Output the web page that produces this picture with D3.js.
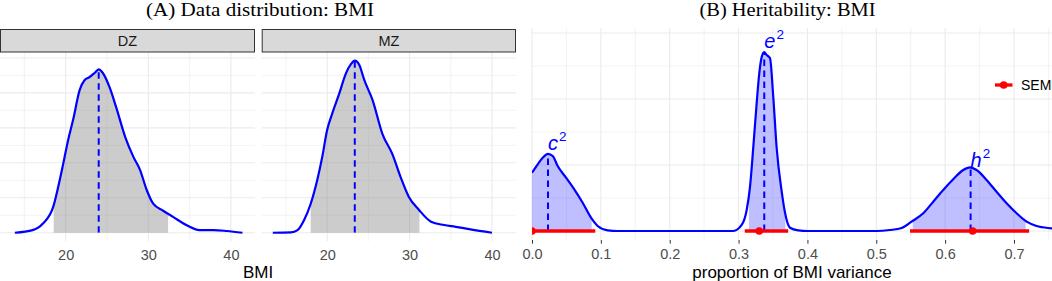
<!DOCTYPE html>
<html><head><meta charset="utf-8">
<script src="https://cdn.jsdelivr.net/npm/d3@7"></script>
<style>body{margin:0;background:#fff}svg{display:block}</style>
</head><body>
<svg id="chart" width="1052" height="281"></svg>
<script>
// ---------- data: panel A (BMI distributions) ----------
const twinTypes = ["DZ", "MZ"];
const bmiTicks = [20, 30, 40];
const bmiMinor = [15, 25, 35];
const dzBmi = [13.85, 16.0, 17.25, 18.5, 19.1, 19.7, 20.3, 20.9, 21.7, 22.3, 22.9, 23.5, 24.0, 24.5, 25.3, 26.1, 27.2, 28.2, 29.0, 29.8, 30.6, 31.8, 33.0, 34.6, 36.2, 37.9, 39.5, 41.4];
const dzDensity = [0, 0.0015, 0.0053, 0.0149, 0.0263, 0.0394, 0.0531, 0.0646, 0.0817, 0.0874, 0.0891, 0.0914, 0.0935, 0.0914, 0.0834, 0.0720, 0.0549, 0.0434, 0.0360, 0.0246, 0.0166, 0.0126, 0.0091, 0.0044, 0.0015, 0.0015, 0.0010, 0];
const mzBmi = [13.4, 15.6, 16.4, 17.2, 18.0, 18.8, 19.4, 20.0, 20.6, 21.45, 22.25, 22.9, 23.35, 23.9, 24.5, 25.5, 26.7, 27.9, 28.9, 29.9, 31.15, 32.6, 34.2, 35.6, 37.4, 40.0];
const mzDensity = [0, 0.0002, 0.0015, 0.0073, 0.0166, 0.0303, 0.0434, 0.0589, 0.0680, 0.0794, 0.0909, 0.0966, 0.0985, 0.0960, 0.0874, 0.0760, 0.0566, 0.0451, 0.0320, 0.0206, 0.0130, 0.0063, 0.0044, 0.0034, 0.0019, 0];
const shadeLoA = [18.55, 18.0];
const shadeHiA = [32.4, 31.2];
const medianA = [24.0, 23.35];
const densityGridA = [0, 0.01, 0.02, 0.03, 0.04, 0.05, 0.06, 0.07, 0.08, 0.09, 0.1];

// ---------- data: panel B (heritability) ----------
const propTicks = [0, 0.1, 0.2, 0.3, 0.4, 0.5, 0.6, 0.7];
const propMinor = [0.05, 0.15, 0.25, 0.35, 0.45, 0.55, 0.65, 0.75];
const propX = [0, 0.0083, 0.0155, 0.0232, 0.0301, 0.0373, 0.0494, 0.0614, 0.0736, 0.0857, 0.0954, 0.1099, 0.1245, 0.2923, 0.3045, 0.3118, 0.3166, 0.3214, 0.3263, 0.3301, 0.3336, 0.3373, 0.3408, 0.3456, 0.3504, 0.3554, 0.3626, 0.3674, 0.3747, 0.3867, 0.40, 0.5006, 0.5198, 0.5368, 0.5513, 0.5682, 0.5827, 0.5972, 0.6117, 0.6262, 0.6360, 0.6457, 0.6602, 0.6747, 0.6893, 0.7038, 0.7183, 0.7328, 0.7497, 0.7552];
const propDensity = [8.83, 10.1, 11.1, 11.7, 11.36, 9.85, 8.08, 6.32, 4.29, 2.02, 0.76, 0.1, 0, 0, 0.91, 3.18, 6.67, 12.73, 19.39, 23.94, 26.36, 27.12, 26.67, 26.2, 20.3, 12.5, 6.0, 2.8, 0.5, 0.1, 0, 0, 0.15, 0.45, 1.41, 2.68, 4.44, 6.21, 7.83, 9.24, 9.65, 9.24, 7.73, 5.95, 4.2, 2.68, 1.41, 0.76, 0.45, 0.4];
const components = ["c", "e", "h"];
const compMedian = [0.0232, 0.3373, 0.637];
const compShadeLo = [0, 0.315, 0.553];
const compShadeHi = [0.0867, 0.368, 0.717];
const labelY = [12.2, 27.7, 9.75];
const semEst = [0, 0.330, 0.640];
const semLo = [-0.09, 0.309, 0.549];
const semHi = [0.0919, 0.372, 0.722];
const densityGridB = [0, 5, 10, 15, 20, 25, 30];

// ---------- drawing ----------
const svg = d3.select("#chart");
const SANS = "'Liberation Sans', Arial, Helvetica, sans-serif";
const SERIF = "'Liberation Serif', 'Times New Roman', serif";
const gridCol = "#ebebeb";
const defs = svg.append("defs");

// titles
svg.append("text").attr("x", 260).attr("y", 15.5).attr("text-anchor", "middle")
  .attr("font-family", SERIF).attr("font-size", 18).attr("fill", "#000")
  .attr("textLength", 228).attr("lengthAdjust", "spacingAndGlyphs")
  .text("(A) Data distribution: BMI");
svg.append("text").attr("x", 787.5).attr("y", 15.5).attr("text-anchor", "middle")
  .attr("font-family", SERIF).attr("font-size", 18).attr("fill", "#000")
  .attr("textLength", 176).attr("lengthAdjust", "spacingAndGlyphs")
  .text("(B) Heritability: BMI");

// ---- panel A ----
const panelsA = [{x0: 0, x1: 255}, {x0: 261.7, x1: 516}];
const aTop = 52, aBot = 241.3;
const yA = d3.scaleLinear().domain([-0.0049, 0.1034]).range([aBot, aTop]);
const seriesA = [[dzBmi, dzDensity], [mzBmi, mzDensity]];

twinTypes.forEach((name, i) => {
  const p = panelsA[i];
  const xA = d3.scaleLinear().domain([12.05, 42.92]).range([p.x0, p.x1]);
  const g = svg.append("g");
  // grid
  densityGridA.forEach((v, k) => {
    g.append("line").attr("x1", p.x0).attr("x2", p.x1).attr("y1", yA(v)).attr("y2", yA(v))
      .attr("stroke", gridCol).attr("stroke-width", k % 2 === 0 ? 1.1 : 0.6);
  });
  bmiMinor.forEach(v => g.append("line").attr("x1", xA(v)).attr("x2", xA(v)).attr("y1", aTop).attr("y2", aBot)
      .attr("stroke", gridCol).attr("stroke-width", 0.6));
  bmiTicks.forEach(v => g.append("line").attr("x1", xA(v)).attr("x2", xA(v)).attr("y1", aTop).attr("y2", aBot)
      .attr("stroke", gridCol).attr("stroke-width", 1.1));

  const pts = seriesA[i][0].map((b, k) => [b, seriesA[i][1][k]]);
  const area = d3.area().x(d => xA(d[0])).y0(yA(0)).y1(d => yA(d[1])).curve(d3.curveMonotoneX);
  const line = d3.line().x(d => xA(d[0])).y(d => yA(d[1])).curve(d3.curveMonotoneX);

  defs.append("clipPath").attr("id", "shadeA" + i).append("rect")
    .attr("x", xA(shadeLoA[i])).attr("width", xA(shadeHiA[i]) - xA(shadeLoA[i]))
    .attr("y", aTop).attr("height", aBot - aTop);
  defs.append("clipPath").attr("id", "underA" + i).append("path").attr("d", area(pts));

  g.append("path").attr("d", area(pts)).attr("fill", "#7f7f7f").attr("fill-opacity", 0.4)
    .attr("clip-path", `url(#shadeA${i})`);
  g.append("line").attr("x1", xA(medianA[i])).attr("x2", xA(medianA[i]))
    .attr("y1", yA(0)).attr("y2", aTop).attr("stroke", "#0000ff").attr("stroke-width", 2)
    .attr("stroke-dasharray", "6.5,4.5").attr("clip-path", `url(#underA${i})`);
  g.append("path").attr("d", line(pts)).attr("fill", "none").attr("stroke", "#0000ff")
    .attr("stroke-width", 2.2).attr("stroke-linejoin", "round");

  // strip
  svg.append("rect").attr("x", p.x0 + 0.5).attr("y", 29.5).attr("width", p.x1 - p.x0 - 1).attr("height", 22.5)
    .attr("fill", "#d9d9d9").attr("stroke", "#333333").attr("stroke-width", 1);
  svg.append("text").attr("x", (p.x0 + p.x1) / 2).attr("y", 46).attr("text-anchor", "middle")
    .attr("font-family", SANS).attr("font-size", 14.5).attr("fill", "#1a1a1a").text(name);

  // tick labels
  const ax = d3.axisBottom(xA).tickValues(bmiTicks).tickSize(0).tickPadding(0).tickFormat(d3.format("d"));
  const axg = svg.append("g").attr("transform", `translate(0,${aBot})`).call(ax);
  axg.select(".domain").remove();
  axg.selectAll("text").attr("font-family", SANS).attr("font-size", 14.5).attr("fill", "#4d4d4d")
    .attr("dy", null).attr("y", 18.5);
});
svg.append("text").attr("x", 258).attr("y", 277.5).attr("text-anchor", "middle")
  .attr("font-family", SANS).attr("font-size", 17).attr("fill", "#000").text("BMI");

// ---- panel B ----
const bL = 532, bR = 1052, bTop = 28, bBot = 240;
const xB = d3.scaleLinear().domain([0, 0.7552]).range([bL, bR]);
const yB = d3.scaleLinear().domain([-1.364, 30.76]).range([bBot, bTop]);
const gB = svg.append("g");
defs.append("clipPath").attr("id", "panelB").append("rect")
  .attr("x", bL).attr("y", bTop).attr("width", bR - bL).attr("height", bBot - bTop);

densityGridB.forEach((v, k) => gB.append("line").attr("x1", bL).attr("x2", bR).attr("y1", yB(v)).attr("y2", yB(v))
  .attr("stroke", gridCol).attr("stroke-width", k % 2 === 0 ? 1.1 : 0.6));
propMinor.forEach(v => gB.append("line").attr("x1", xB(v)).attr("x2", xB(v)).attr("y1", bTop).attr("y2", bBot)
  .attr("stroke", gridCol).attr("stroke-width", 0.6));
propTicks.forEach(v => gB.append("line").attr("x1", xB(v)).attr("x2", xB(v)).attr("y1", bTop).attr("y2", bBot)
  .attr("stroke", gridCol).attr("stroke-width", 1.1));

const ptsB = propX.map((x, k) => [x, propDensity[k]]);
const areaB = d3.area().x(d => xB(d[0])).y0(yB(0)).y1(d => yB(d[1])).curve(d3.curveMonotoneX);
const lineB = d3.line().x(d => xB(d[0])).y(d => yB(d[1])).curve(d3.curveMonotoneX);
defs.append("clipPath").attr("id", "underB").append("path").attr("d", areaB(ptsB));

const gClip = gB.append("g").attr("clip-path", "url(#panelB)");
components.forEach((c, i) => {
  defs.append("clipPath").attr("id", "shadeB" + i).append("rect")
    .attr("x", xB(compShadeLo[i])).attr("width", xB(compShadeHi[i]) - xB(compShadeLo[i]))
    .attr("y", bTop).attr("height", bBot - bTop);
  gClip.append("g").attr("clip-path", `url(#shadeB${i})`)
    .append("path").attr("d", areaB(ptsB)).attr("fill", "#0000ff").attr("fill-opacity", 0.25);
});
const gDash = gClip.append("g").attr("clip-path", "url(#underB)");
components.forEach((c, i) => {
  gDash.append("line").attr("x1", xB(compMedian[i])).attr("x2", xB(compMedian[i]))
    .attr("y1", yB(0)).attr("y2", bTop).attr("stroke", "#0000ff").attr("stroke-width", 2)
    .attr("stroke-dasharray", "6.5,4.5");
});
gClip.append("path").attr("d", lineB(ptsB)).attr("fill", "none").attr("stroke", "#0000ff")
  .attr("stroke-width", 2.2).attr("stroke-linejoin", "round");
components.forEach((c, i) => {
  gClip.append("line").attr("x1", xB(semLo[i])).attr("x2", xB(semHi[i]))
    .attr("y1", yB(0)).attr("y2", yB(0)).attr("stroke", "#ff0000").attr("stroke-width", 3.3);
  gClip.append("circle").attr("cx", xB(semEst[i])).attr("cy", yB(0)).attr("r", 3.8).attr("fill", "#ff0000");
  const t = gB.append("text").attr("x", xB(compMedian[i])).attr("y", yB(labelY[i]))
    .attr("font-family", SANS).attr("font-size", 20).attr("font-style", "italic").attr("fill", "#0000ff");
  t.append("tspan").text(c);
  t.append("tspan").attr("dy", -9).attr("dx", 1).attr("font-size", 13.5).attr("font-style", "normal").text("2");
});

// ticks + labels B
const axB = d3.axisBottom(xB).tickValues(propTicks).tickSize(3.7).tickPadding(0).tickFormat(d3.format(".1f"));
const axBg = svg.append("g").attr("transform", `translate(0,${bBot})`).call(axB);
axBg.select(".domain").remove();
axBg.selectAll(".tick line").attr("stroke", "#333333").attr("stroke-width", 1);
axBg.selectAll("text").attr("font-family", SANS).attr("font-size", 14.5).attr("fill", "#4d4d4d")
  .attr("dy", null).attr("y", 18.5);
svg.append("text").attr("x", 792).attr("y", 277.5).attr("text-anchor", "middle")
  .attr("font-family", SANS).attr("font-size", 17).attr("fill", "#000").text("proportion of BMI variance");

// legend
const lg = svg.append("g");
lg.append("line").attr("x1", 995).attr("x2", 1012.5).attr("y1", 85).attr("y2", 85)
  .attr("stroke", "#ff0000").attr("stroke-width", 3.3);
lg.append("circle").attr("cx", 1003.7).attr("cy", 85).attr("r", 3.8).attr("fill", "#ff0000");
lg.append("text").attr("x", 1021).attr("y", 90).attr("font-family", SANS).attr("font-size", 14)
  .attr("fill", "#000").text("SEM");
</script>
</body></html>
